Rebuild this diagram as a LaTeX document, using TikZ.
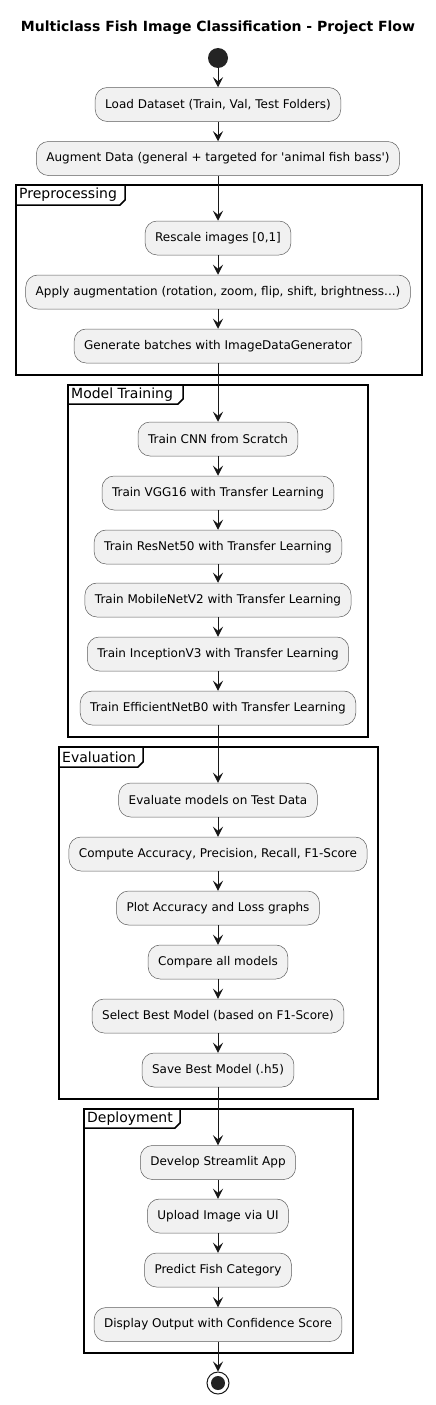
\documentclass[tikz,border=0pt]{standalone}
\usepackage{fontspec}
\setmainfont{DejaVu Sans}
\usepackage{tikz}
\usetikzlibrary{arrows.meta}
\definecolor{actfill}{HTML}{F1F1F1}
\definecolor{actline}{HTML}{181818}
\tikzset{
  act/.style={draw=actline!70, line width=0.5pt, fill=actfill, rounded corners=12pt,
    minimum height=34pt, inner xsep=10pt, font=\fontsize{12}{14}\selectfont},
  flow/.style={-{Stealth[length=10pt,width=10pt,inset=4pt]}, line width=1pt, draw=actline},
  frm/.style={line width=1.5pt},
  frmlabel/.style={anchor=west, inner sep=0pt, font=\fontsize{14}{16}\selectfont},
}

\begin{document}
\begin{tikzpicture}[x=1pt,y=1pt]
\useasboundingbox (0,0) rectangle (436,-1405);

\node[font=\bfseries\fontsize{14}{16}\selectfont] (title) at (218,-28) {Multiclass Fish Image Classification - Project Flow};
\node[circle, fill=actline!95, minimum size=20pt, inner sep=0pt] (start) at (218,-58) {};

\node[act] (load) at (218,-104.5) {Load Dataset (Train, Val, Test Folders)};
\node[act] (augment) at (218,-158.5) {Augment Data (general + targeted for \textquotesingle animal fish bass\textquotesingle)};

% Preprocessing
\draw[frm] (16,-185) rectangle (422,-375);
\draw[frm] (16,-205) -- (120,-205) -- (125,-200) -- (125,-185);
\node[frmlabel] (preLbl) at (19,-195) {Preprocessing};
\node[act] (rescale) at (218,-238) {Rescale images [0,1]};
\node[act] (apply) at (218,-292) {Apply augmentation (rotation, zoom, flip, shift, brightness...)};
\node[act] (generate) at (218,-346) {Generate batches with ImageDataGenerator};

% Model Training
\draw[frm] (68,-385) rectangle (368,-737);
\draw[frm] (68,-404) -- (178,-404) -- (183,-399) -- (183,-385);
\node[frmlabel] (trainLbl) at (71,-394.5) {Model Training};
\node[act] (cnn) at (218,-439) {Train CNN from Scratch};
\node[act] (vgg) at (218,-493) {Train VGG16 with Transfer Learning};
\node[act] (resnet) at (218,-547) {Train ResNet50 with Transfer Learning};
\node[act] (mobile) at (218,-600) {Train MobileNetV2 with Transfer Learning};
\node[act] (inception) at (218,-654) {Train InceptionV3 with Transfer Learning};
\node[act] (efficient) at (218,-708) {Train EfficientNetB0 with Transfer Learning};

% Evaluation
\draw[frm] (59,-747) rectangle (378,-1099);
\draw[frm] (59,-767) -- (138,-767) -- (143,-762) -- (143,-747);
\node[frmlabel] (evalLbl) at (62,-757) {Evaluation};
\node[act] (evaluate) at (218,-800) {Evaluate models on Test Data};
\node[act] (compute) at (218,-854) {Compute Accuracy, Precision, Recall, F1-Score};
\node[act] (plot) at (218,-908) {Plot Accuracy and Loss graphs};
\node[act] (compare) at (218,-962) {Compare all models};
\node[act] (select) at (218,-1016) {Select Best Model (based on F1-Score)};
\node[act] (save) at (218,-1070) {Save Best Model (.h5)};

% Deployment
\draw[frm] (84,-1109) rectangle (353,-1353);
\draw[frm] (84,-1128) -- (175,-1128) -- (180,-1123) -- (180,-1109);
\node[frmlabel] (deployLbl) at (87,-1118.5) {Deployment};
\node[act] (develop) at (218,-1162.5) {Develop Streamlit App};
\node[act] (upload) at (218,-1216) {Upload Image via UI};
\node[act] (predict) at (218,-1270) {Predict Fish Category};
\node[act] (display) at (218,-1324.5) {Display Output with Confidence Score};

\node[circle, draw=actline, line width=1pt, fill=white, minimum size=22pt, inner sep=0pt] (stop) at (218,-1383) {};
\fill[actline!95] (stop.center) circle (7pt);

\draw[flow] (start) -- (load);
\draw[flow] (load) -- (augment);
\draw[flow] (augment) -- (rescale);
\draw[flow] (rescale) -- (apply);
\draw[flow] (apply) -- (generate);
\draw[flow] (generate) -- (cnn);
\draw[flow] (cnn) -- (vgg);
\draw[flow] (vgg) -- (resnet);
\draw[flow] (resnet) -- (mobile);
\draw[flow] (mobile) -- (inception);
\draw[flow] (inception) -- (efficient);
\draw[flow] (efficient) -- (evaluate);
\draw[flow] (evaluate) -- (compute);
\draw[flow] (compute) -- (plot);
\draw[flow] (plot) -- (compare);
\draw[flow] (compare) -- (select);
\draw[flow] (select) -- (save);
\draw[flow] (save) -- (develop);
\draw[flow] (develop) -- (upload);
\draw[flow] (upload) -- (predict);
\draw[flow] (predict) -- (display);
\draw[flow] (display) -- (stop);
\end{tikzpicture}
\end{document}
